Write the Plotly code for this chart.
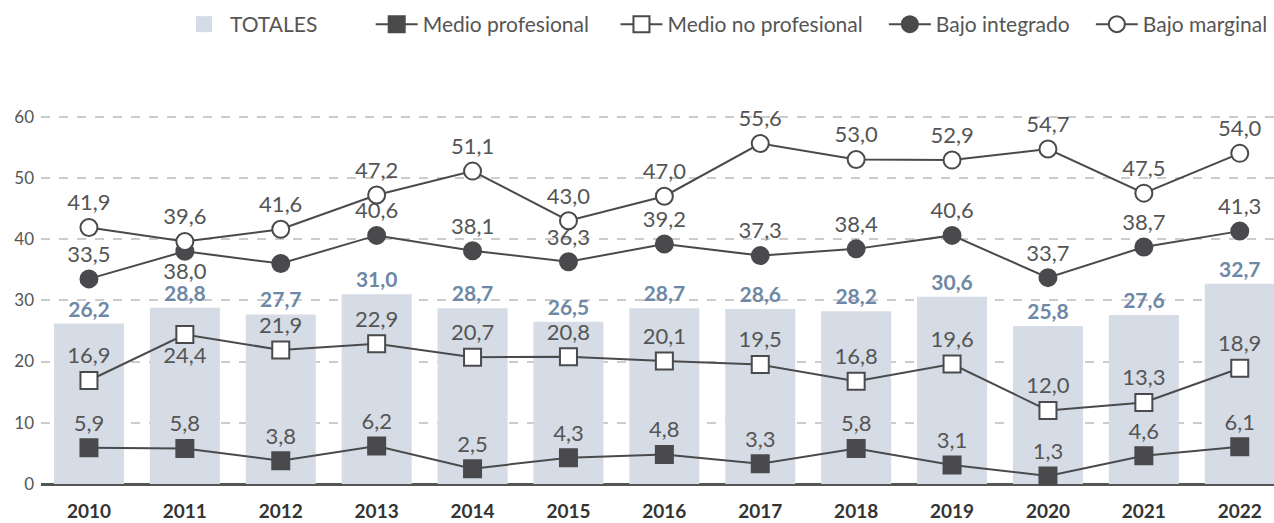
import plotly.graph_objects as go

years = ["2010", "2011", "2012", "2013", "2014", "2015", "2016",
         "2017", "2018", "2019", "2020", "2021", "2022"]
totales = [26.2, 28.8, 27.7, 31.0, 28.7, 26.5, 28.7, 28.6, 28.2, 30.6, 25.8, 27.6, 32.7]
medio_prof = [5.9, 5.8, 3.8, 6.2, 2.5, 4.3, 4.8, 3.3, 5.8, 3.1, 1.3, 4.6, 6.1]
medio_no_prof = [16.9, 24.4, 21.9, 22.9, 20.7, 20.8, 20.1, 19.5, 16.8, 19.6, 12.0, 13.3, 18.9]
bajo_integrado = [33.5, 38.0, 36.0, 40.6, 38.1, 36.3, 39.2, 37.3, 38.4, 40.6, 33.7, 38.7, 41.3]
bajo_marginal = [41.9, 39.6, 41.6, 47.2, 51.1, 43.0, 47.0, 55.6, 53.0, 52.9, 54.7, 47.5, 54.0]

FONT = "Lato"
DARK = "#4a4a4d"
LABEL = "#555555"
BAR = "#d5dce5"
BAR_TXT = "#6e88a6"
NB = "\u00a0"


def fmt(v):
    return f"{v:.1f}".replace(".", ",")


def positions(n, below=()):
    return ["bottom center" if i in below else "top center" for i in range(n)]


fig = go.Figure()

# legend entry for the bars (bigger swatch than plotly's bar icon)
fig.add_trace(go.Scatter(
    x=[years[0]], y=[None], name="TOTALES" + NB * 9, mode="markers",
    marker=dict(symbol="square", size=16, color=BAR), hoverinfo="skip",
))

fig.add_trace(go.Bar(
    x=years, y=totales, name="TOTALES", showlegend=False,
    marker=dict(color=BAR, line=dict(width=0)),
    width=0.73,
    text=[fmt(v) for v in totales],
    textposition="outside",
    cliponaxis=False,
    textfont=dict(family=FONT, size=21, color=BAR_TXT, weight="bold"),
))


def add_line(vals, name, symbol, fill, pos, texts=None):
    fig.add_trace(go.Scatter(
        x=years, y=vals, name=name,
        mode="lines+markers+text",
        line=dict(color=DARK, width=2),
        marker=dict(symbol=symbol, size=17, color=fill,
                    line=dict(color=DARK, width=2)),
        text=texts if texts is not None else [fmt(v) for v in vals],
        textposition=pos,
        textfont=dict(family=FONT, size=22, color=LABEL),
        cliponaxis=False,
    ))


n = len(years)
add_line(medio_prof, "Medio profesional" + NB * 4, "square", DARK, positions(n))
add_line(medio_no_prof, "Medio no profesional" + NB * 3, "square", "white",
         positions(n, below=(1,)))
# 2012 label of "Bajo integrado" sits to the lower right (annotation below)
bi_text = [fmt(v) if i != 2 else "" for i, v in enumerate(bajo_integrado)]
add_line(bajo_integrado, "Bajo integrado" + NB * 3, "circle", DARK,
         positions(n, below=(1,)), texts=bi_text)
add_line(bajo_marginal, "Bajo marginal", "circle", "white", positions(n))

fig.add_annotation(
    x=years[2], y=bajo_integrado[2], text=fmt(bajo_integrado[2]),
    showarrow=False, xanchor="left", yanchor="middle", xshift=6, yshift=-10,
    font=dict(family=FONT, size=22, color=LABEL),
)

fig.update_layout(
    width=1274, height=523,
    margin=dict(l=41, r=0, t=86, b=39),
    plot_bgcolor="white", paper_bgcolor="white",
    font=dict(family=FONT, size=17, color=LABEL),
    showlegend=True,
    legend=dict(
        orientation="h", x=178 / 1274, xanchor="left",
        y=1 - 4 / 523, yanchor="top",
        yref="container", xref="container",
        font=dict(family=FONT, size=21, color=LABEL),
        itemwidth=42, traceorder="normal",
    ),
    xaxis=dict(
        range=[-0.5, 12.357],
        showgrid=False, showline=False, zeroline=False,
        ticks="outside", ticklen=10, tickcolor="rgba(0,0,0,0)",
        tickfont=dict(family=FONT, size=19, color="#333333", weight="bold"),
    ),
    yaxis=dict(
        range=[0, 65],
        tickvals=[0, 10, 20, 30, 40, 50, 60],
        showgrid=True, gridcolor="#cccccc", griddash="dash", gridwidth=1.5,
        zeroline=True, zerolinecolor="#555555", zerolinewidth=3,
        ticks="", tickfont=dict(family=FONT, size=17, color=LABEL),
        ticklabelstandoff=6,
    ),
)

fig.write_html("out.html", config={"displayModeBar": False},
               post_script="document.body.style.margin='0';")
